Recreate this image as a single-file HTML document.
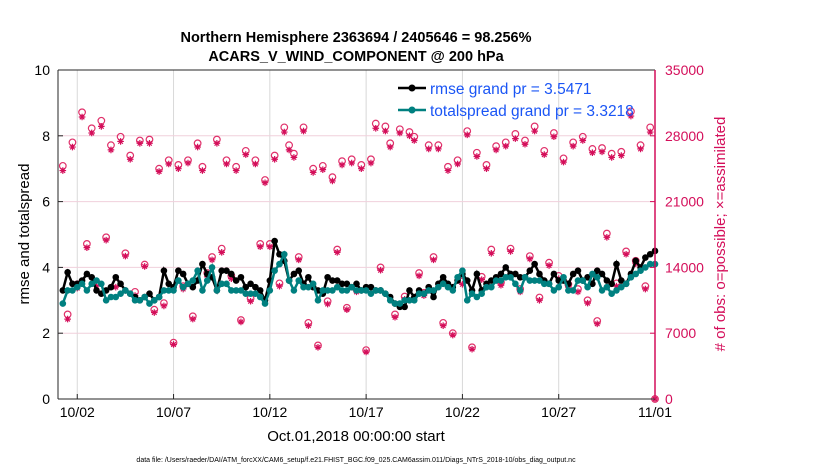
<!DOCTYPE html>
<html><head><meta charset="utf-8"><style>
body{margin:0;background:#fff;width:830px;height:470px;overflow:hidden}
text{font-family:"Liberation Sans",sans-serif}
</style></head><body>
<svg id="chart" width="830" height="470">
<text x="356" y="42" text-anchor="middle" font-size="14.5" font-weight="bold">Northern Hemisphere 2363694 / 2405646 = 98.256%</text>
<text x="356" y="61" text-anchor="middle" font-size="14.5" font-weight="bold">ACARS_V_WIND_COMPONENT @ 200 hPa</text>
<g id="grid"></g>
<g id="marks"></g>
<g id="axes"></g>
<text transform="translate(29,234) rotate(-90)" text-anchor="middle" font-size="15">rmse and totalspread</text>
<text transform="translate(725,234) rotate(-90)" text-anchor="middle" font-size="15" fill="#d40e5a"># of obs: o=possible; ×=assimilated</text>
<text x="356" y="441" text-anchor="middle" font-size="15">Oct.01,2018 00:00:00 start</text>
<text x="356" y="462" text-anchor="middle" font-size="7">data file: /Users/raeder/DAI/ATM_forcXX/CAM6_setup/f.e21.FHIST_BGC.f09_025.CAM6assim.011/Diags_NTrS_2018-10/obs_diag_output.nc</text>
<g>
<line x1="398" y1="88" x2="426" y2="88" stroke="#000" stroke-width="2.5"/><circle cx="412" cy="88" r="3.5" fill="#000"/>
<text x="430" y="94" font-size="15.5" fill="#1a55f5">rmse grand pr = 3.5471</text>
<line x1="398" y1="110" x2="426" y2="110" stroke="#008080" stroke-width="2.5"/><circle cx="412" cy="110" r="3.5" fill="#008080"/>
<text x="430" y="116" font-size="15.5" fill="#1a55f5">totalspread grand pr = 3.3218</text>
</g>
</svg>
<script>
const xTickLabels=["10/02","10/07","10/12","10/17","10/22","10/27","11/01"];
const xTickDays=[1,6,11,16,21,26,31];
const yLeftTicks=[0,2,4,6,8,10];
const yRightTicks=[0,7000,14000,21000,28000,35000];
const rmse=[3.3,3.85,3.5,3.5, 3.6,3.8,3.7,3.3, 3.2,3.3,3.4,3.7, 3.5,3.3,3.2,3.1, 3.0,3.1,3.2,3.0, 3.1,3.9,3.5,3.4, 3.9,3.8,3.5,3.4, 3.6,4.1,3.8,3.7, 3.3,3.9,3.9,3.8, 3.6,3.7,3.4,3.5, 3.4,3.3,3.0,3.6, 4.8,4.4,4.2,3.6, 3.8,3.9,3.5,3.7, 3.4,3.3,3.2,3.7, 3.6,3.6,3.5,3.5, 3.4,3.5,3.3,3.4, 3.4,3.3,3.3,3.2, 3.1,2.9,2.8,2.8, 3.3,3.1,3.3,3.2, 3.4,3.1,3.5,3.7, 3.5,3.4,3.6,3.8, 3.6,3.3,3.8,3.3, 3.5,3.6,3.7,3.8, 4.0,3.8,3.8,3.7, 3.7,3.9,4.1,3.8, 3.6,3.5,3.8,3.6, 3.6,3.5,3.8,3.9, 3.6,3.7,3.5,3.9, 3.8,3.6,3.5,4.1, 3.6,3.5,3.8,4.2, 4.0,4.3,4.4,4.5];
const spread=[2.9,3.3,3.3,3.4, 3.5,3.3,3.5,3.6, 3.5,3.0,3.1,3.1, 3.2,3.3,3.2,3.0, 3.0,3.1,2.9,3.0, 3.1,3.3,3.3,3.3, 3.6,3.4,3.5,3.6, 3.9,3.3,3.6,4.0, 3.3,3.5,3.5,3.3, 3.3,3.3,3.2,3.2, 3.2,3.1,2.9,3.3, 3.9,4.1,4.4,3.6, 3.3,3.6,3.4,3.4, 3.5,3.0,3.3,3.3, 3.3,3.4,3.3,3.3, 3.4,3.3,3.3,3.3, 3.2,3.3,3.3,3.2, 3.0,2.9,2.9,3.0, 3.0,3.0,3.2,3.2, 3.3,3.3,3.4,3.5, 3.4,3.3,3.7,3.9, 3.0,3.2,3.1,3.2, 3.4,3.4,3.6,3.6, 3.7,3.7,3.5,3.3, 3.7,3.6,3.6,3.6, 3.5,3.5,3.3,3.4, 3.7,3.3,3.3,3.6, 3.6,3.4,3.8,3.7, 3.3,3.4,3.2,3.3, 3.4,3.5,3.7,3.8, 3.9,4.0,4.1,4.1];
const possible=[24800,9000,27300,12200, 30500,16500,28800,12400, 29600,17200,27000,12300, 27900,15500,25900,11400, 27500,14300,27600,9500, 24500,10200,25400,6000, 24900,12000,25400,8800, 27200,24700,13400,15100, 27600,16000,25400,13100, 24700,8400,26400,10700, 25400,16500,23300,16500, 25900,12300,28900,27000, 26100,15100,28900,8100, 24500,5700,24800,10400, 23600,15900,25300,9700, 25500,11700,24900,5200, 25500,29300,14000,29000, 27200,9000,28700,10900, 28400,27900,13400,11300, 27000,15100,27000,8100, 24700,7000,25400,12500, 28500,5500,26200,13000, 24900,15900,26900,12400, 27300,16000,28200,11700, 27500,15200,29000,10800, 26400,14500,28300,13100, 25600,12200,27300,11700, 27900,10500,26600,8300, 26700,17600,26100,12300, 26300,15700,30600,14700, 27000,12000,28900,0];
const assimilated=[24300,8500,26800,11800, 30000,16100,28300,12000, 29000,16900,26500,11900, 27400,15200,25500,11000, 27200,14100,27200,9200, 24200,9900,25000,5800, 24500,11700,25100,8500, 26800,24300,13000,14800, 27200,15600,25000,12800, 24300,8200,26000,10400, 25000,16200,23000,16200, 25500,12000,28400,26500, 25700,14800,28500,7800, 24100,5500,24400,10100, 23200,15600,24900,9500, 25100,11400,24500,5000, 25100,28800,13700,28500, 26800,8700,28300,10600, 28000,27500,13100,11000, 26600,14800,26600,7800, 24300,6800,25000,12200, 28100,5300,25800,12700, 24500,15500,26500,12100, 26900,15700,27700,11400, 27100,14900,28500,10500, 26000,14200,27900,12800, 25200,11900,26900,11400, 27500,10200,26200,8000, 26300,17200,25700,12000, 25900,15400,30100,14400, 26600,11700,28400,0];

const X0=58,X1=655,Y0=399,Y1=70;
const xs=d=>X0+(d/31)*(X1-X0);
const yL=v=>Y0-(v/10)*(Y0-Y1);
const yR=v=>Y0-(v/35000)*(Y0-Y1);
const NS="http://www.w3.org/2000/svg";
function mk(tag,attrs,parent){const e=document.createElementNS(NS,tag);for(const k in attrs)e.setAttribute(k,attrs[k]);parent.appendChild(e);return e;}
const grid=document.getElementById('grid'),marks=document.getElementById('marks'),axes=document.getElementById('axes');
mk('rect',{x:X0,y:Y1,width:X1-X0,height:Y0-Y1,fill:'#fff'},grid);
xTickDays.forEach((d,i)=>{
  const l=mk('line',{x1:xs(d),x2:xs(d),y1:Y1,y2:Y0,stroke:'#d8d8d8','stroke-width':1},grid);
  
  
  mk('line',{x1:xs(d),x2:xs(d),y1:Y0,y2:Y0-5,stroke:'#262626'},axes);
  const t=mk('text',{x:xs(d),y:Y0+18,'text-anchor':'middle','font-size':14},axes);
  t.textContent=xTickLabels[i];
  
  
});
yRightTicks.forEach(v=>{
  if(v>0&&v<35000){const l=mk('line',{x1:X0,x2:X1,y1:yR(v),y2:yR(v),stroke:'#f0d0dc','stroke-width':1},grid);
  
  }
  mk('line',{x1:X1,x2:X1-5,y1:yR(v),y2:yR(v),stroke:'#d40e5a'},axes);
  const t=mk('text',{x:X1+10,y:yR(v)+5,'font-size':14,fill:'#d40e5a'},axes);
  t.textContent=v;
  
  
});
yLeftTicks.forEach(v=>{
  mk('line',{x1:X0,x2:X0+5,y1:yL(v),y2:yL(v),stroke:'#262626'},axes);
  const t=mk('text',{x:X0-8,y:yL(v)+5,'text-anchor':'end','font-size':14},axes);
  t.textContent=v;
  
  
});
mk('line',{x1:X0,x2:X0,y1:Y1,y2:Y0,stroke:'#262626'},axes);
mk('line',{x1:X0,x2:X1,y1:Y0,y2:Y0,stroke:'#262626'},axes);
mk('line',{x1:X0,x2:X1,y1:Y1,y2:Y1,stroke:'#262626'},axes);
mk('line',{x1:X1,x2:X1,y1:Y1,y2:Y0,stroke:'#d40e5a','stroke-width':1.5},axes);
const dt=0.25;
possible.forEach((v,i)=>{
  const c=mk('circle',{cx:xs(i*dt+0.25),cy:yR(v),r:3.3,fill:'none',stroke:'#e0306a','stroke-width':1.2},marks);
  
  
});
assimilated.forEach((v,i)=>{
  const x=xs(i*dt+0.25),y=yR(v);
  const r=3.3;
  const d=`M${x-r},${y}H${x+r}M${x},${y-r}V${y+r}M${x-2.3},${y-2.3}L${x+2.3},${y+2.3}M${x-2.3},${y+2.3}L${x+2.3},${y-2.3}`;
  const p=mk('path',{d:d,stroke:'#d40e5a','stroke-width':1.2,fill:'none'},marks);
  
  
});
function series(vals,color,name){
  const pts=vals.map((v,i)=>xs(i*dt+0.25)+','+yL(v)).join(' ');
  const p=mk('polyline',{points:pts,fill:'none',stroke:color,'stroke-width':2.5},marks);
  
  
  vals.forEach((v,i)=>{
    const c=mk('circle',{cx:xs(i*dt+0.25),cy:yL(v),r:3.3,fill:color},marks);
    
    
  });
}
series(rmse,'#000','rmse');
series(spread,'#008080','totalspread');
</script>
</body></html>
